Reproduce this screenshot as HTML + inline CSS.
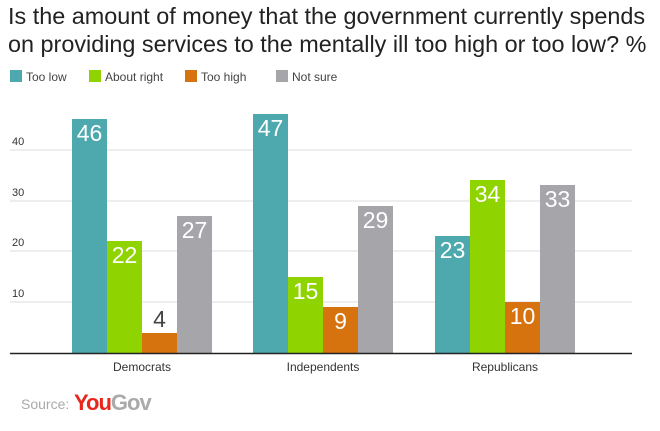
<!DOCTYPE html>
<html><head><style>
body{margin:0;background:#fff;font-family:"Liberation Sans",Arial,sans-serif;}
</style></head><body>
<svg width="660" height="426" xmlns="http://www.w3.org/2000/svg" font-family="Liberation Sans, Arial, sans-serif">
<text x="8" y="24" font-size="23.4" fill="#222">Is the amount of money that the government currently spends</text>
<text x="8" y="52" font-size="23.4" fill="#222">on providing services to the mentally ill too high or too low? %</text>
<rect x="10" y="70" width="12" height="12" fill="#4da9ae"/><text x="26" y="81" font-size="12" fill="#444">Too low</text>
<rect x="89" y="70" width="12" height="12" fill="#8fd400"/><text x="105" y="81" font-size="12" fill="#444">About right</text>
<rect x="185" y="70" width="12" height="12" fill="#d7730f"/><text x="201" y="81" font-size="12" fill="#444">Too high</text>
<rect x="276" y="70" width="12" height="12" fill="#a6a6aa"/><text x="292" y="81" font-size="12" fill="#444">Not sure</text>
<g stroke="#ddd" stroke-width="1">
<line x1="10" y1="150" x2="632" y2="150"/><line x1="10" y1="201" x2="632" y2="201"/>
<line x1="10" y1="251" x2="632" y2="251"/><line x1="10" y1="302" x2="632" y2="302"/>
</g>
<g font-size="11" fill="#333"><text x="12" y="145">40</text><text x="12" y="196">30</text><text x="12" y="246">20</text><text x="12" y="297">10</text></g>
<g font-size="23">
<rect x="72" y="119" width="35" height="234" fill="#4da9ae"/><text x="89.5" y="141" fill="#fff" text-anchor="middle">46</text>
<rect x="107" y="241" width="35" height="112" fill="#8fd400"/><text x="124.5" y="263" fill="#fff" text-anchor="middle">22</text>
<rect x="142" y="333" width="35" height="20" fill="#d7730f"/><text x="159.5" y="327" fill="#444" text-anchor="middle">4</text>
<rect x="177" y="216" width="35" height="137" fill="#a6a6aa"/><text x="194.5" y="238" fill="#fff" text-anchor="middle">27</text>
<rect x="253" y="114" width="35" height="239" fill="#4da9ae"/><text x="270.5" y="136" fill="#fff" text-anchor="middle">47</text>
<rect x="288" y="277" width="35" height="76" fill="#8fd400"/><text x="305.5" y="299" fill="#fff" text-anchor="middle">15</text>
<rect x="323" y="307" width="35" height="46" fill="#d7730f"/><text x="340.5" y="329" fill="#fff" text-anchor="middle">9</text>
<rect x="358" y="206" width="35" height="147" fill="#a6a6aa"/><text x="375.5" y="228" fill="#fff" text-anchor="middle">29</text>
<rect x="435" y="236" width="35" height="117" fill="#4da9ae"/><text x="452.5" y="258" fill="#fff" text-anchor="middle">23</text>
<rect x="470" y="180" width="35" height="173" fill="#8fd400"/><text x="487.5" y="202" fill="#fff" text-anchor="middle">34</text>
<rect x="505" y="302" width="35" height="51" fill="#d7730f"/><text x="522.5" y="324" fill="#fff" text-anchor="middle">10</text>
<rect x="540" y="185" width="35" height="168" fill="#a6a6aa"/><text x="557.5" y="207" fill="#fff" text-anchor="middle">33</text>
</g>
<line x1="10" y1="353.5" x2="632" y2="353.5" stroke="#222" stroke-width="1.5"/>
<g font-size="12" fill="#333" text-anchor="middle">
<text x="142" y="371">Democrats</text><text x="323" y="371">Independents</text><text x="505" y="371">Republicans</text>
</g>
<text x="21" y="409" font-size="14" fill="#aaa">Source:</text>
<text x="74" y="410" font-size="22" font-weight="bold" letter-spacing="-1"><tspan fill="#e8261c">You</tspan><tspan fill="#aaa">Gov</tspan></text>
</svg>
</body></html>
